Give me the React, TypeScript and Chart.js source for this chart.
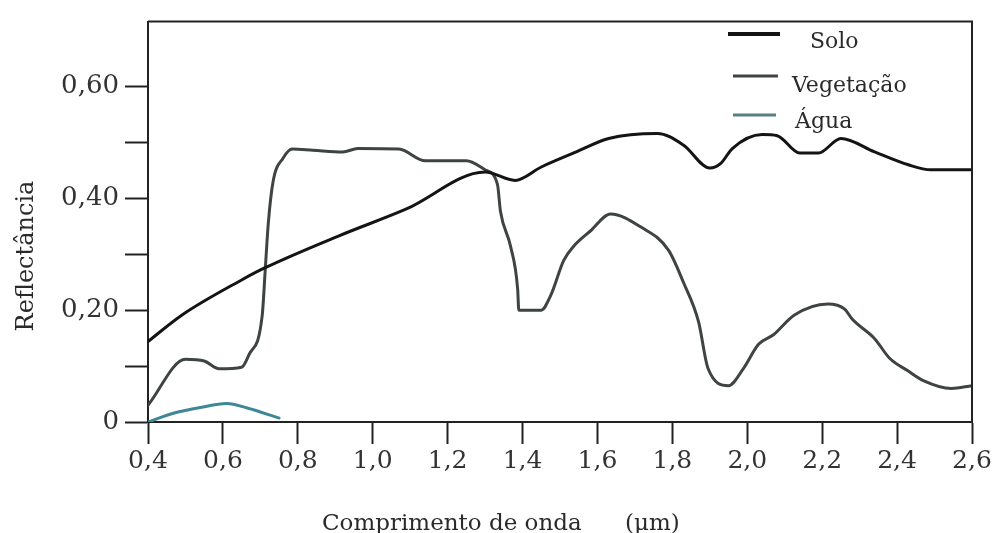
import { useEffect, useRef } from 'react';
import { Chart, registerables } from 'chart.js';

Chart.register(...registerables);

// ---- data ----
const soloX = [0.40, 0.49, 0.65, 0.71, 0.91, 1.09, 1.30, 1.38, 1.45, 1.54, 1.63, 1.76, 1.83, 1.90, 1.93, 1.96, 2.04, 2.08, 2.14, 2.19, 2.25, 2.34, 2.43, 2.49, 2.60];
const soloY = [0.144, 0.191, 0.254, 0.275, 0.333, 0.381, 0.447, 0.432, 0.456, 0.482, 0.507, 0.516, 0.495, 0.454, 0.463, 0.489, 0.514, 0.512, 0.481, 0.481, 0.507, 0.483, 0.460, 0.451, 0.451];

const vegX = [0.40, 0.50, 0.55, 0.59, 0.65, 0.67, 0.705, 0.713, 0.721, 0.734, 0.761, 0.785, 0.84, 0.92, 0.96, 1.07, 1.14, 1.25, 1.30, 1.333, 1.341, 1.368, 1.387, 1.39, 1.45, 1.475, 1.51, 1.536, 1.582, 1.635, 1.715, 1.79, 1.83, 1.87, 1.895, 1.95, 1.99, 2.03, 2.07, 2.125, 2.215, 2.26, 2.28, 2.34, 2.38, 2.43, 2.47, 2.545, 2.60];
const vegY = [0.030, 0.112, 0.109, 0.095, 0.098, 0.121, 0.191, 0.272, 0.354, 0.430, 0.472, 0.488, 0.486, 0.483, 0.489, 0.488, 0.467, 0.467, 0.451, 0.425, 0.377, 0.314, 0.237, 0.200, 0.200, 0.226, 0.289, 0.314, 0.342, 0.372, 0.349, 0.307, 0.249, 0.179, 0.096, 0.065, 0.096, 0.139, 0.156, 0.191, 0.211, 0.202, 0.184, 0.149, 0.114, 0.091, 0.074, 0.060, 0.065];

const aguaX = [0.40, 0.47, 0.54, 0.61, 0.665, 0.75];
const aguaY = [0.0, 0.016, 0.026, 0.033, 0.025, 0.007];

const seriesLabels = ['Solo', 'Vegetação', 'Água'];
const seriesColors = ['#141414', '#3e4441', '#3d8797'];

const xTickValues = [0.4, 0.6, 0.8, 1.0, 1.2, 1.4, 1.6, 1.8, 2.0, 2.2, 2.4, 2.6];
const xTickLabels = ['0,4', '0,6', '0,8', '1,0', '1,2', '1,4', '1,6', '1,8', '2,0', '2,2', '2,4', '2,6'];
const yTickValues = [0, 0.1, 0.2, 0.3, 0.4, 0.5, 0.6];
const yTickLabels = ['0', '', '0,20', '', '0,40', '', '0,60'];

const xTitle = 'Comprimento de onda';
const xUnit = '(μm)';
const yTitle = 'Reflectância';

const SERIF = '"DejaVu Serif", serif';

const toPoints = (xs: number[], ys: number[]) => xs.map((x, i) => ({ x, y: ys[i] }));

const decorPlugin = {
  id: 'decor',
  afterDraw(chart: any) {
    const { ctx, chartArea: a } = chart;
    ctx.save();
    // top and right frame
    ctx.strokeStyle = '#222';
    ctx.lineWidth = 2;
    ctx.beginPath();
    ctx.moveTo(a.left, a.top);
    ctx.lineTo(a.right, a.top);
    ctx.lineTo(a.right, a.bottom);
    ctx.stroke();

    // x title
    ctx.fillStyle = '#2a2a2a';
    ctx.font = `23px ${SERIF}`;
    ctx.textAlign = 'left';
    ctx.textBaseline = 'alphabetic';
    ctx.fillText(xTitle, 322, 530);
    ctx.fillText(xUnit, 625, 530);

    // y title
    ctx.save();
    ctx.translate(33, 256);
    ctx.rotate(-Math.PI / 2);
    ctx.textAlign = 'center';
    ctx.font = `24px ${SERIF}`;
    ctx.fillText(yTitle, 0, 0);
    ctx.restore();

    // legend
    const legend = [
      { x1: 728, x2: 780, ly: 34, tx: 810, ty: 48, w: 4 },
      { x1: 733, x2: 778, ly: 76, tx: 792, ty: 92, w: 3 },
      { x1: 733, x2: 776, ly: 115, tx: 795, ty: 128, w: 3 },
    ];
    ctx.font = `22px ${SERIF}`;
    legend.forEach((l, i) => {
      ctx.strokeStyle = i === 2 ? '#567f88' : seriesColors[i];
      ctx.lineWidth = l.w;
      ctx.beginPath();
      ctx.moveTo(l.x1, l.ly);
      ctx.lineTo(l.x2, l.ly);
      ctx.stroke();
      ctx.fillStyle = '#2a2a2a';
      ctx.fillText(chart.data.datasets[i].label, l.tx, l.ty);
    });
    ctx.restore();
  },
};

export default function App() {
  const ref = useRef<HTMLCanvasElement>(null);
  useEffect(() => {
    document.body.style.margin = '0';
    const chart = new Chart(ref.current as HTMLCanvasElement, {
      type: 'line',
      data: {
        datasets: [
          { label: seriesLabels[0], data: toPoints(soloX, soloY), borderColor: seriesColors[0], borderWidth: 3 },
          { label: seriesLabels[1], data: toPoints(vegX, vegY), borderColor: seriesColors[1], borderWidth: 3 },
          { label: seriesLabels[2], data: toPoints(aguaX, aguaY), borderColor: seriesColors[2], borderWidth: 3 },
        ].map((d) => ({
          ...d,
          pointRadius: 0,
          fill: false,
          cubicInterpolationMode: 'monotone' as const,
          borderJoinStyle: 'round' as const,
          borderCapStyle: 'round' as const,
        })),
      },
      options: {
        animation: false,
        responsive: true,
        maintainAspectRatio: false,
        layout: { padding: { top: 14, right: 31, left: 0, bottom: 0 } },
        plugins: { legend: { display: false }, tooltip: { enabled: false } },
        scales: {
          x: {
            type: 'linear',
            min: 0.4,
            max: 2.6,
            afterBuildTicks: (s: any) => {
              s.ticks = xTickValues.map((v) => ({ value: v }));
            },
            afterFit: (s: any) => {
              s.height = 111;
            },
            ticks: {
              autoSkip: false,
              maxRotation: 0,
              padding: 2,
              color: '#333',
              font: { family: SERIF, size: 25 },
              callback: (_v: any, i: number) => xTickLabels[i],
            },
            grid: { drawOnChartArea: false, drawTicks: true, tickLength: 22, tickWidth: 2, tickColor: '#222' },
            border: { color: '#222', width: 2 },
          },
          y: {
            type: 'linear',
            min: 0,
            max: 0.716,
            afterBuildTicks: (s: any) => {
              s.ticks = yTickValues.map((v) => ({ value: v }));
            },
            afterFit: (s: any) => {
              s.width = 148;
            },
            ticks: {
              autoSkip: false,
              padding: 6,
              color: '#333',
              font: { family: SERIF, size: 26 },
              callback: (_v: any, i: number) => yTickLabels[i],
            },
            grid: { drawOnChartArea: false, drawTicks: true, tickLength: 23, tickWidth: 2, tickColor: '#222' },
            border: { color: '#222', width: 2 },
          },
        },
      },
      plugins: [decorPlugin],
    });
    return () => chart.destroy();
  }, []);
  return (
    <div style={{ width: 1003, height: 533, position: 'relative' }}>
      <canvas ref={ref} />
    </div>
  );
}
